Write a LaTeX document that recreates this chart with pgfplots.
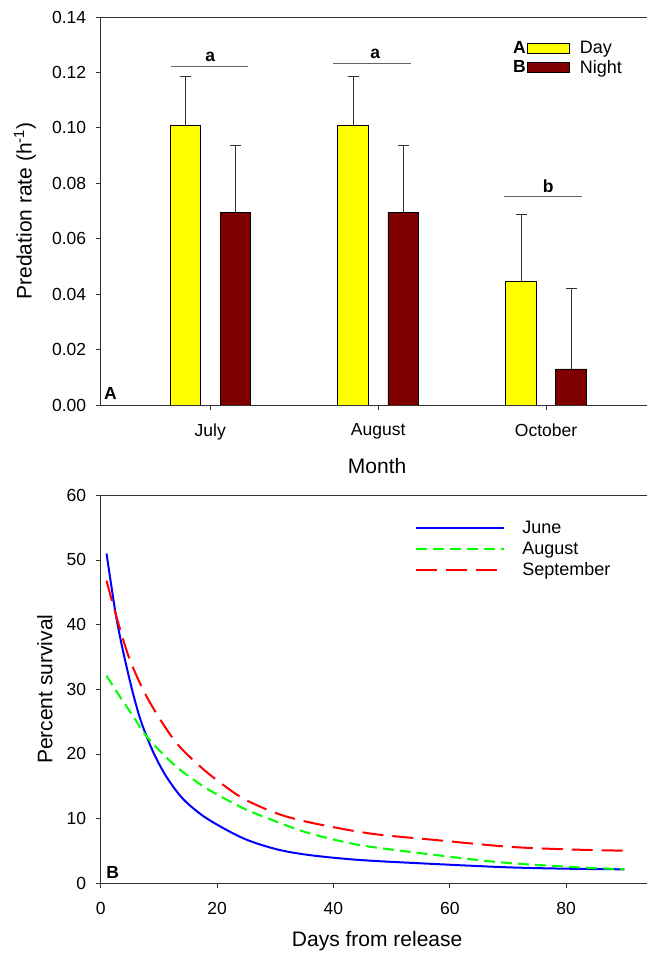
\documentclass[border=0pt]{standalone}
\usepackage{pgfplots}
\pgfplotsset{compat=1.18}
\usepackage{fontspec}
\setmainfont{Liberation Sans}

\definecolor{dayyellow}{RGB}{255,255,0}
\definecolor{nightred}{RGB}{128,0,0}
\definecolor{axisgray}{RGB}{50,50,50}

\newcommand\tickfont{\fontsize{17.5bp}{19bp}\selectfont}
\newcommand\labelfont{\fontsize{21bp}{23bp}\selectfont}
\newcommand\legfont{\fontsize{18bp}{20bp}\selectfont}
\newcommand\letterfont{\bfseries\fontsize{17.5bp}{19bp}\selectfont}

\pgfplotsset{
  panel/.style={
    scale only axis, width=546.3bp, height=388bp, anchor=south west,
    axis x line*=box, axis y line*=left,
    tick pos=left, tick align=outside, major tick length=5bp,
    axis line style={axisgray, line width=0.9bp},
    tick style={axisgray, line width=0.9bp},
    tick label style={font=\tickfont},
    xticklabel style={yshift=-10bp},
    yticklabel style={xshift=-6bp},
    /pgf/number format/assume math mode=true,
  },
  lettered box/.style={legend image code/.code={\draw[##1] (0bp,-5.3bp) rectangle (41.7bp,5.3bp);
    \node[anchor=east, inner sep=0pt, font=\letterfont] at (-1.5bp,0bp) {#1};}},
  bars/.style={ybar, bar width=0.1817, bar shift=0, draw=black, line width=0.9bp,
    error bars/.cd, y dir=plus, y explicit,
    error bar style={axisgray, line width=0.9bp},
    error mark options={rotate=90, mark size=5.5bp, axisgray, line width=0.9bp}},
}

\begin{document}
\begin{tikzpicture}
% ---------- panel A: predation rate ----------
% bars sit 0.149 either side of each month (July=0, August=1, October=2)
\begin{axis}[panel, at={(100.7bp,548bp)},
  xmin=-0.6528, xmax=2.601, ymin=0, ymax=0.14,
  xtick={0,1,2}, xticklabels={July,August,October},
  ytick={0,0.02,0.04,0.06,0.08,0.10,0.12,0.14},
  yticklabel style={/pgf/number format/.cd, fixed, fixed zerofill, precision=2},
  xlabel={Month}, ylabel={Predation rate (h\textsuperscript{-1})},
  every axis x label/.style={at={(axis description cs:0.506,-0.176)}, anchor=base, font=\labelfont},
  every axis y label/.style={at={(axis description cs:-0.1386,0.5)}, rotate=90, anchor=center, font=\labelfont},
  legend style={at={(axis description cs:0.749,0.948)}, anchor=north west,
    draw=none, fill=none, font=\legfont, row sep=1bp, column sep=8bp},
  legend cell align=left,
]
\addplot[fill=dayyellow, lettered box=A, bars]
  coordinates {(-0.149,0.1009) +- (0,0.0177) (0.851,0.1009) +- (0,0.0175) (1.851,0.0445) +- (0,0.0243)};
\addlegendentry{Day}
\addplot[fill=nightred, lettered box=B, bars]
  coordinates {(0.149,0.0696) +- (0,0.0239) (1.149,0.0695) +- (0,0.0242) (2.149,0.0130) +- (0,0.0292)};
\addlegendentry{Night}
% significance groups
\draw[gray!80!black, line width=0.9bp] (axis cs:-0.236,0.1222) -- (axis cs:0.226,0.1222);
\draw[gray!80!black, line width=0.9bp] (axis cs:0.731,0.1234) -- (axis cs:1.198,0.1234);
\draw[gray!80!black, line width=0.9bp] (axis cs:1.749,0.0752) -- (axis cs:2.216,0.0752);
\node[anchor=base, inner sep=0pt, font=\letterfont] at (axis cs:0,0.1239) {a};
\node[anchor=base, inner sep=0pt, font=\letterfont] at (axis cs:0.983,0.1251) {a};
\node[anchor=base, inner sep=0pt, font=\letterfont] at (axis cs:2.013,0.0766) {b};
\node[anchor=base west, inner sep=0pt, font=\letterfont] at (rel axis cs:0,0) [xshift=3.3bp, yshift=5bp] {A};
\end{axis}

% ---------- panel B: survival ----------
\begin{axis}[panel, at={(100.7bp,69.7bp)},
  xmin=0, xmax=93.9, ymin=0, ymax=60,
  xtick={0,20,40,60,80}, ytick={0,10,20,30,40,50,60},
  xlabel={Days from release}, ylabel={Percent survival},
  every axis x label/.style={at={(axis description cs:0.506,-0.1634)}, anchor=base, font=\labelfont},
  every axis y label/.style={at={(axis description cs:-0.102,0.5)}, rotate=90, anchor=center, font=\labelfont},
  legend style={at={(axis description cs:0.57,0.945)}, anchor=north west,
    draw=none, fill=none, font=\legfont, row sep=3bp, column sep=15bp},
  legend cell align=left,
  legend image code/.code={\draw[#1] (0bp,0bp) -- (88bp,0bp);},
]
\addplot[blue, line width=2bp, smooth] coordinates {
  (1,51.0) (2.46,42.3) (3.44,37.6) (4.47,33.4) (5.6,29.2) (6.76,25.5) (7.9,22.7)
  (9.33,19.7) (11.35,16.4) (14.2,13.0) (18.2,10.05) (24.5,6.96) (30.3,5.25)
  (36,4.35) (44.6,3.6) (57.5,2.98) (70,2.47) (80,2.26) (90,2.16)};
\addlegendentry{June}
\addplot[green, line width=2bp, smooth, dash pattern=on 11bp off 6bp] coordinates {
  (1,32.1) (3.2,29.0) (5.6,25.8) (7.9,22.7) (11.35,19.4) (14,17.3) (16.8,15.5)
  (18.5,14.5) (24.5,11.6) (30.3,9.5) (36,7.7) (44.6,5.9) (57.5,4.38) (68.6,3.25)
  (80,2.57) (90,2.16)};
\addlegendentry{August}
\addplot[red, line width=2bp, smooth, dash pattern=on 21bp off 9bp] coordinates {
  (1,46.8) (2.46,42.0) (4.75,35.2) (7.3,29.9) (9.9,25.8) (13.1,21.6) (16.8,18.3)
  (19.9,16.0) (24.5,13.1) (30.3,10.8) (36,9.4) (46.3,7.7) (57.5,6.7) (70,5.66)
  (80,5.25) (90,5.04)};
\addlegendentry{September}
\node[anchor=base west, inner sep=0pt, font=\letterfont] at (rel axis cs:0,0) [xshift=5.5bp, yshift=5.3bp] {B};
\end{axis}
\pgfresetboundingbox
\useasboundingbox (0,0) rectangle (647bp,953bp);
\end{tikzpicture}
\end{document}
